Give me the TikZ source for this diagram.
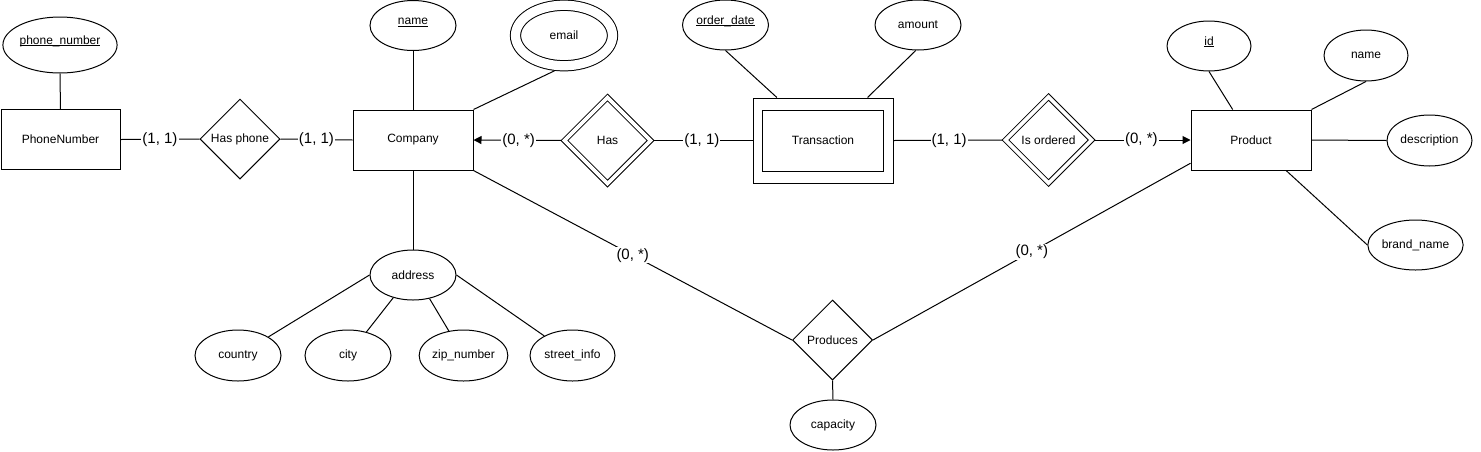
\documentclass[tikz,border=0pt]{standalone}
\usepackage{fontspec}
\setmainfont{Liberation Sans}
\usetikzlibrary{shapes.geometric,arrows.meta,backgrounds}
\newcommand{\keyattr}[1]{\underline{\smash{#1}}}
\begin{document}
\begin{tikzpicture}[x=1pt,y=-1pt,
  every node/.style={font=\fontsize{12pt}{14pt}\selectfont},
  ent/.style={draw,line width=1pt,fill=white,rectangle,minimum width=120pt,minimum height=60pt,inner sep=0pt},
  attr/.style={draw,line width=1pt,fill=white,ellipse,minimum width=86pt,minimum height=50pt,inner sep=0pt},
  rel/.style={draw,line width=1pt,fill=white,diamond,minimum width=80pt,minimum height=80pt,inner sep=0pt},
  wrel/.style={draw,line width=1pt,fill=white,diamond,double,double distance=3.6pt,minimum width=86.5pt,minimum height=86.5pt,inner sep=0pt},
  conn/.style={line width=1pt,draw=black},
  arr/.style={conn,-{Triangle[length=8pt,width=8pt]}},
  lbl/.style={fill=white,inner sep=1pt,font=\fontsize{15pt}{17pt}\selectfont}
]
\useasboundingbox (0,0) rectangle (1481,451);

% entities
\node[ent,minimum width=119pt] (pn) at (60.5,139.5) {PhoneNumber};
\node[ent] (company) at (413,140) {Company};
\node[ent,minimum width=140pt,minimum height=85pt] (trans) at (823,140.5) {Transaction};
\draw[line width=1pt] ([xshift=10pt,yshift=-12.5pt]trans.north west) rectangle ([xshift=-10pt,yshift=12.5pt]trans.south east);
\node[ent] (product) at (1251,140) {Product};

% relationships
\node[rel] (hasphone) at (240,139) {Has phone};
\node[wrel] (has) at (607.5,140.5) {Has};
\node[wrel] (isord) at (1048.5,140) {Is ordered};
\node[rel] (produces) at (832.5,340) {Produces};

% attributes
\node[attr,minimum width=96pt,minimum height=56pt] (pnum) at (60,45) {\keyattr{phone\_number}};
\node[attr] (cname) at (413,25.5) {\keyattr{name}};
\node[attr,double,double distance=9.25pt,minimum width=97pt,minimum height=60.5pt] (email) at (564,35.5) {email};
\node[attr] (odate) at (725.5,25) {\keyattr{order\_date}};
\node[attr] (amount) at (918,25) {amount};
\node[attr,minimum width=84pt] (pid) at (1209,46) {\keyattr{id}};
\node[attr,minimum width=84pt,minimum height=51pt] (pname) at (1366,55.5) {name};
\node[attr,minimum width=85pt,minimum height=51pt] (pdesc) at (1429.5,140.5) {description};
\node[attr,minimum width=84pt] (pbrand) at (1415.5,245) {brand\_name};
\node[attr] (capacity) at (833,425) {capacity};
\node[attr] (address) at (413,275) {address};
\node[attr,minimum height=51pt] (country) at (238,355.5) {country};
\node[attr,minimum height=51pt] (city) at (348,355.5) {city};
\node[attr,minimum width=85pt,minimum height=51pt] (zip) at (463.5,355.5) {zip\_number};
\node[attr,minimum width=85pt,minimum height=51pt] (street) at (572.5,355.5) {street\_info};

\begin{scope}[on background layer]
\fill[white] (0,0) rectangle (1481,451);
\draw[conn] (pnum) -- (pn);
\draw[conn] (pn.east) -- node[lbl]{(1, 1)} (hasphone.west);
\draw[conn] (hasphone.east) -- node[lbl]{(1, 1)} (company.west);
\draw[conn] (cname) -- (company);
\draw[conn] (email.south) -- (company.north east);
\draw[arr] (has.west) -- node[lbl]{(0, *)} (company.east);
\draw[conn] (has.east) -- node[lbl]{(1, 1)} (trans.west);
\draw[conn] (odate.south) -- (trans.137.3);
\draw[conn] (amount.265) -- (trans.44);
\draw[conn] (trans.east) -- node[lbl]{(1, 1)} (isord.west);
\draw[arr] (isord.east) -- node[lbl]{(0, *)} (product.west);
\draw[conn] (pid.south) -- (product.121);
\draw[conn] (pname.south) -- (product.north east);
\draw[conn] (product.east) -- (pdesc.west);
\draw[conn] (product.319.4) -- (pbrand.west);
\draw[conn] (company.south east) -- node[lbl]{(0, *)} (produces.west);
\draw[conn] (produces.east) -- node[lbl]{(0, *)} (product.201);
\draw[conn] (produces.south) -- (capacity.north);
\draw[conn] (company.south) -- (address.north);
\draw[conn] (address.west) -- (country);
\draw[conn] (address.229) -- (city);
\draw[conn] (address.305) -- (zip);
\draw[conn] (address.east) -- (street);
\end{scope}
\end{tikzpicture}
\end{document}
